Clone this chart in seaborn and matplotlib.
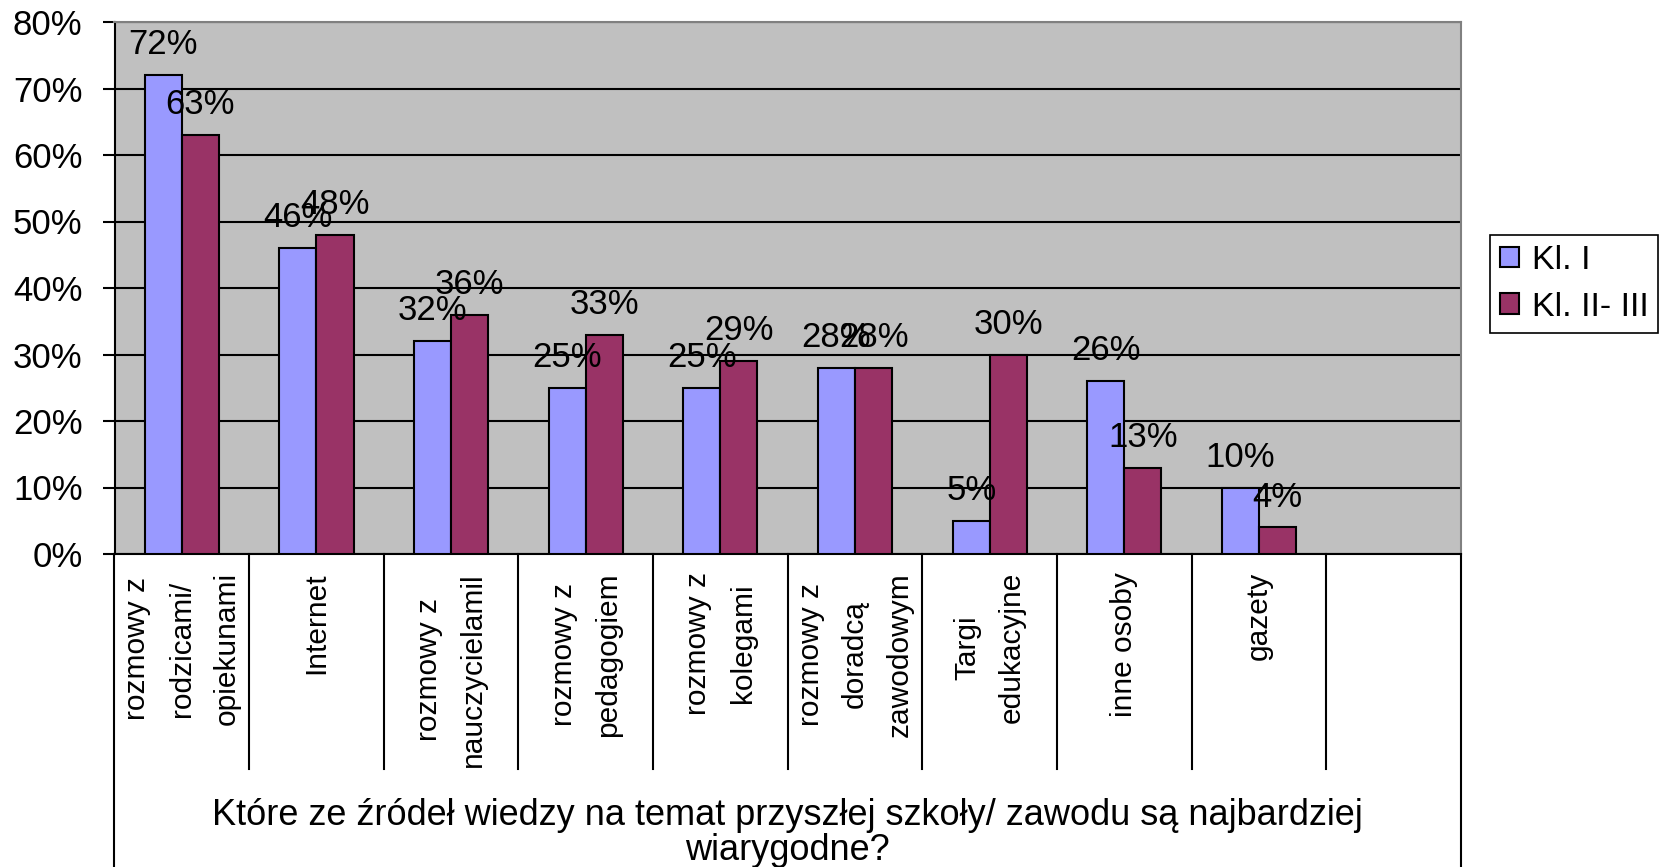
"""Excel-style grouped bar chart: sources of information about future school."""

import matplotlib
matplotlib.use('Agg')
import matplotlib.pyplot as plt
from matplotlib.transforms import blended_transform_factory
import pandas as pd
import seaborn as sns

## DATA
CATEGORIES = ['rozmowy z\nrodzicami/\nopiekunami', 'Internet', 'rozmowy z\nnauczycielamil',
              'rozmowy z\npedagogiem', 'rozmowy z\nkolegami', 'rozmowy z\ndoradcą\nzawodowym',
              'Targi\nedukacyjne', 'inne osoby', 'gazety']
SERIES = ['Kl. I', 'Kl. II- III']
KL_I = [72, 46, 32, 25, 25, 28, 5, 26, 10]
KL_II_III = [63, 48, 36, 33, 29, 28, 30, 13, 4]
Y_TICKS = [0, 10, 20, 30, 40, 50, 60, 70, 80]
TITLE = 'Które ze źródeł wiedzy na temat przyszłej szkoły/ zawodu są najbardziej\nwiarygodne?'

## SETTINGS
COLOR1 = '#9999ff'
COLOR2 = '#993366'
BG = '#c0c0c0'
W, H = 1662, 867
BIG = 25
MID = 21.5

plt.rcParams['font.family'] = ['Liberation Sans', 'DejaVu Sans']

df = pd.DataFrame({
    'cat': CATEGORIES * 2,
    'series': [SERIES[0]] * len(CATEGORIES) + [SERIES[1]] * len(CATEGORIES),
    'value': KL_I + KL_II_III,
})

fig = plt.figure(figsize=(W / 100, H / 100), dpi=100)
left, right, top, bottom = 114.5, 1461, 22, 554
ax = fig.add_axes([left / W, 1 - bottom / H, (right - left) / W, (bottom - top) / H])
ax.set_facecolor(BG)

sns.barplot(df, x='cat', y='value', hue='series', order=CATEGORIES,
            palette=[COLOR1, COLOR2], width=0.55, edgecolor='black', linewidth=1.5,
            saturation=1, ax=ax, zorder=3)

ax.set_xlim(-0.5, len(CATEGORIES) + 0.5)
ax.set_ylim(0, 80)
ax.set_yticks(Y_TICKS)
ax.set_yticklabels([f'{v}%' for v in Y_TICKS], fontsize=BIG)
ax.tick_params(axis='y', length=9, width=1.5, pad=14, direction='out')
ax.set_xticks([])
ax.set(xlabel=None, ylabel=None)
ax.yaxis.grid(True, color='black', linewidth=1.5, zorder=1)
ax.set_axisbelow(True)

for side in ['left', 'bottom']:
    ax.spines[side].set_color('black')
    ax.spines[side].set_linewidth(1.5)
for side in ['top', 'right']:
    ax.spines[side].set_color('#808080')
    ax.spines[side].set_linewidth(1.5)

# Data labels
for cont in ax.containers:
    for bar in cont:
        h = bar.get_height()
        ax.annotate(f'{h:.0f}%', (bar.get_x() + bar.get_width() / 2, h),
                    xytext=(0, 15), textcoords='offset points', ha='center',
                    va='baseline', fontsize=BIG, zorder=5)

# Category table below the plot
trans = blended_transform_factory(ax.transData, ax.transAxes)
px = 1 / (bottom - top)
n = len(CATEGORIES)
for i in range(n + 2):
    x = i - 0.5
    y_end = -(H - bottom) * px if i in (0, n + 1) else -(769 - bottom) * px
    ax.plot([x, x], [0, y_end], color='black', lw=1.5, transform=trans, clip_on=False)

for i, cat in enumerate(CATEGORIES):
    ax.text(i, -(572 - bottom) * px, cat, transform=trans, rotation=90, ha='center',
            va='top', multialignment='center', fontsize=MID, linespacing=1.75)

ax.text(0.5, -(798 - bottom) * px, TITLE, transform=ax.transAxes, ha='center', va='top',
        fontsize=26, linespacing=1.0)

# Legend
handles, labels = ax.get_legend_handles_labels()
ax.legend(handles, labels, loc='upper left', bbox_to_anchor=(1490 / W, 1 - 235 / H),
          bbox_transform=fig.transFigure, fontsize=24.5, frameon=True, fancybox=False,
          edgecolor='black', framealpha=1, borderaxespad=0, handlelength=0.55,
          handleheight=0.55, handletextpad=0.37, borderpad=0.3, labelspacing=0.45)
ax.get_legend().get_frame().set_linewidth(1.2)

fig.savefig('out.png', dpi=100)
